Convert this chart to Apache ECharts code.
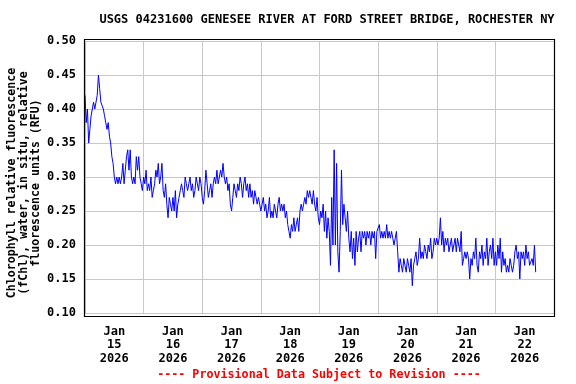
<!DOCTYPE html>
<html>
<head>
<meta charset="utf-8">
<script src="https://cdn.jsdelivr.net/npm/echarts@6/dist/echarts.min.js"></script>
<style>
html,body{margin:0;padding:0;background:#fff;}
#chart{width:576px;height:384px;}
</style>
</head>
<body>
<div id="chart"></div>
<script>
const titleText = 'USGS 04231600 GENESEE RIVER AT FORD STREET BRIDGE, ROCHESTER NY';
const yAxisTitle = 'Chlorophyll relative fluorescence\n(fChl), water, in situ, relative\nfluorescence units (RFU)';
const footerText = '---- Provisional Data Subject to Revision ----';
const dayLabels = ['Jan\n15\n2026','Jan\n16\n2026','Jan\n17\n2026','Jan\n18\n2026','Jan\n19\n2026','Jan\n20\n2026','Jan\n21\n2026','Jan\n22\n2026'];
const stepHours = 0.5; // sampling interval of the readings below

// Chlorophyll RFU readings, one array per day (half-hourly)
const jan15 = [0.42,0.38,0.40,0.35,0.37,0.39,0.40,0.41,0.40,0.41,0.42,0.45,0.43,0.41,0.41,0.40,0.39,0.38,0.37,0.38,0.36,0.35,0.33,0.32,0.30,0.29,0.30,0.29,0.30,0.29,0.30,0.32,0.29,0.31,0.33,0.34,0.31,0.34,0.30,0.29,0.30,0.29,0.33,0.31,0.33,0.30,0.29,0.28];
const jan16 = [0.30,0.29,0.31,0.28,0.29,0.28,0.30,0.27,0.28,0.29,0.31,0.30,0.32,0.29,0.30,0.32,0.28,0.27,0.29,0.26,0.24,0.27,0.26,0.25,0.27,0.25,0.28,0.24,0.26,0.27,0.28,0.29,0.28,0.27,0.30,0.29,0.28,0.29,0.30,0.28,0.29,0.27,0.28,0.30,0.29,0.28,0.30,0.29];
const jan17 = [0.27,0.26,0.28,0.31,0.29,0.27,0.28,0.29,0.27,0.29,0.30,0.29,0.31,0.29,0.30,0.31,0.30,0.32,0.30,0.29,0.30,0.28,0.29,0.26,0.25,0.27,0.29,0.28,0.27,0.29,0.28,0.30,0.29,0.27,0.29,0.30,0.28,0.29,0.27,0.29,0.27,0.28,0.26,0.28,0.27,0.26,0.27,0.26];
const jan18 = [0.25,0.26,0.27,0.25,0.26,0.24,0.25,0.27,0.24,0.25,0.24,0.26,0.25,0.24,0.26,0.27,0.25,0.26,0.25,0.26,0.24,0.25,0.23,0.22,0.21,0.23,0.22,0.24,0.22,0.23,0.24,0.22,0.25,0.26,0.25,0.26,0.27,0.26,0.28,0.27,0.28,0.27,0.26,0.28,0.26,0.25,0.27,0.24];
const jan19 = [0.23,0.25,0.24,0.26,0.22,0.25,0.21,0.24,0.22,0.17,0.27,0.20,0.34,0.20,0.32,0.19,0.16,0.22,0.31,0.23,0.26,0.24,0.22,0.25,0.21,0.19,0.22,0.18,0.21,0.17,0.22,0.19,0.21,0.22,0.19,0.22,0.21,0.22,0.20,0.22,0.21,0.22,0.20,0.22,0.21,0.22,0.18,0.22];
const jan20 = [0.22,0.23,0.21,0.22,0.21,0.22,0.21,0.23,0.21,0.22,0.21,0.22,0.21,0.20,0.21,0.22,0.19,0.16,0.18,0.17,0.16,0.18,0.17,0.16,0.18,0.17,0.16,0.18,0.14,0.17,0.18,0.19,0.17,0.18,0.21,0.18,0.19,0.18,0.20,0.19,0.18,0.20,0.19,0.21,0.18,0.19,0.21,0.20];
const jan21 = [0.21,0.20,0.21,0.24,0.20,0.22,0.19,0.21,0.20,0.21,0.19,0.20,0.21,0.19,0.20,0.21,0.19,0.21,0.20,0.19,0.22,0.17,0.18,0.19,0.18,0.19,0.18,0.15,0.18,0.17,0.19,0.18,0.21,0.17,0.16,0.19,0.18,0.20,0.17,0.19,0.18,0.21,0.17,0.19,0.20,0.18,0.21,0.17];
const jan22 = [0.19,0.17,0.20,0.18,0.21,0.16,0.19,0.17,0.18,0.16,0.17,0.16,0.18,0.17,0.16,0.17,0.19,0.20,0.18,0.19,0.15,0.19,0.18,0.19,0.17,0.20,0.18,0.19,0.17,0.17,0.18,0.17,0.20,0.16];

const allValues = [].concat(jan15, jan16, jan17, jan18, jan19, jan20, jan21, jan22);
const seriesData = allValues.map((v, i) => [i * stepHours, v]);

const FONT = '"DejaVu Sans Mono", monospace';
const chart = echarts.init(document.getElementById('chart'), null, {renderer: 'canvas'});
chart.setOption({
  animation: false,
  backgroundColor: '#fff',
  title: {
    text: titleText,
    left: 322, top: 9, textAlign: 'center',
    textStyle: {fontFamily: FONT, fontWeight: 'bold', fontSize: 12, color: '#000'}
  },
  grid: {left: 85, right: 22, top: 41, bottom: 71, outerBoundsMode: 'none', containLabel: false},
  xAxis: [
    {
      type: 'value', min: 0, max: 192, interval: 24,
      axisLine: {show: false}, axisTick: {show: false}, axisLabel: {show: false},
      splitLine: {show: true, lineStyle: {color: '#c8c8c8', width: 1}}
    },
    {
      type: 'value', min: 0, max: 192, interval: 12, position: 'bottom',
      axisLine: {show: false}, axisTick: {show: false}, splitLine: {show: false},
      axisLabel: {
        margin: 12, lineHeight: 13.5,
        fontFamily: FONT, fontWeight: 'bold', fontSize: 12, color: '#000',
        formatter: v => (v % 24 === 12 ? dayLabels[(v - 12) / 24] : '')
      }
    }
  ],
  yAxis: {
    type: 'value', min: 0.10, max: 0.50, interval: 0.05,
    axisLine: {show: false}, axisTick: {show: false},
    axisLabel: {margin: 9, fontFamily: FONT, fontWeight: 'bold', fontSize: 12, color: '#000',
      formatter: v => v.toFixed(2)},
    splitLine: {show: true, lineStyle: {color: '#c8c8c8', width: 1}}
  },
  series: [{
    type: 'line', xAxisIndex: 0, data: seriesData,
    showSymbol: false, symbol: 'none',
    lineStyle: {color: '#0000ff', width: 1},
    itemStyle: {color: '#0000ff'}
  }],
  graphic: [
    {type: 'rect', shape: {x: 84.5, y: 39.5, width: 470, height: 277},
     style: {fill: 'none', stroke: '#000', lineWidth: 1.2}, z: 100, silent: true},
    {type: 'text', x: 24, y: 183, rotation: Math.PI / 2,
     style: {text: yAxisTitle, fill: '#000', font: 'bold 11.6px ' + FONT, lineHeight: 12,
       textAlign: 'center', textVerticalAlign: 'middle'}},
    {type: 'text', x: 319, y: 375,
     style: {text: footerText, fill: '#ff0000', font: 'bold 11.7px ' + FONT, textAlign: 'center', textVerticalAlign: 'middle'}}
  ]
});
</script>
</body>
</html>
